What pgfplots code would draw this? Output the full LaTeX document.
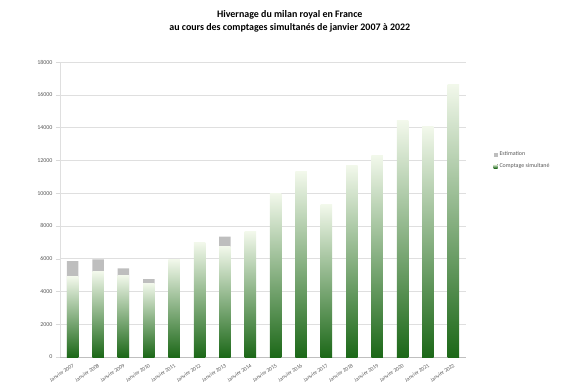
\documentclass[border=0pt]{standalone}
\usepackage{fontspec}
\setmainfont{Carlito}
\usepackage{pgfplots}
\pgfplotsset{compat=1.18}
\definecolor{dgreen}{RGB}{28,104,24}
\definecolor{lgreen}{RGB}{242,248,235}
\definecolor{egrey}{RGB}{190,190,190}
\definecolor{tgrey}{RGB}{90,90,90}
\begin{document}
\begin{tikzpicture}
\useasboundingbox (-60bp,-30bp) rectangle (515bp,357bp);
\begin{axis}[
  at={(0,0)}, anchor=south west,
  width=406bp, height=295bp, scale only axis,
  ybar, bar width=11.5bp, bar shift=0pt,
  ymin=0, ymax=18000, ytick={0,2000,...,18000},
  scaled y ticks=false,
  xmin=-0.5, xmax=15.5, xtick={0,...,15},
  xticklabels={Janvier 2007,Janvier 2008,Janvier 2009,Janvier 2010,Janvier 2011,Janvier 2012,Janvier 2013,Janvier 2014,Janvier 2015,Janvier 2016,Janvier 2017,Janvier 2018,Janvier 2019,Janvier 2020,Janvier 2021,Janvier 2022},
  ymajorgrids, grid style={gray!25},
  axis x line*=bottom, axis y line*=left,
  x axis line style={gray!50, -}, y axis line style={gray!25, -},
  tick align=outside, major tick length=4bp,
  ytick style={gray!30}, xtick style={draw=none},
  /pgf/number format/1000 sep={},
  /pgf/number format/assume math mode=true,
  yticklabel style={font=\fontsize{6}{7}\selectfont, text=tgrey},
  xticklabel style={rotate=34, anchor=north east, inner sep=1.5bp, font=\fontsize{5.5}{6.5}\selectfont, text=tgrey},
  title={Hivernage du milan royal en France\\au cours des comptages simultanés de janvier 2007 à 2022},
  title style={font=\bfseries\fontsize{10}{13}\selectfont, align=center, at={(0.566,1)}, anchor=south, yshift=20bp},
  legend style={at={(1.06,0.71)}, anchor=north west, draw=none, fill=none, font=\fontsize{6}{7}\selectfont, text=tgrey, row sep=2bp},
  legend cell align=left,
  legend image code/.code={\fill[#1] (0bp,-2bp) rectangle (4bp,2bp);},
  gplot/.style={draw=none, bottom color=dgreen, top color=lgreen, forget plot},
]
% totals (comptage + estimation), grey part visible above the count
\addplot[draw=none, fill=egrey] coordinates {
(0,5850) (1,5950) (2,5400) (3,4750) (6,7350)};
\addlegendentry{Estimation}
% comptage simultane, one bar per plot so each bar gets its own gradient
\addplot[draw=none, bottom color=dgreen, top color=lgreen] coordinates {(0,4900)};
\addlegendentry{Comptage simultané}
\addplot[gplot] coordinates {(1,5200)};
\addplot[gplot] coordinates {(2,5000)};
\addplot[gplot] coordinates {(3,4500)};
\addplot[gplot] coordinates {(4,5950)};
\addplot[gplot] coordinates {(5,7000)};
\addplot[gplot] coordinates {(6,6750)};
\addplot[gplot] coordinates {(7,7650)};
\addplot[gplot] coordinates {(8,10000)};
\addplot[gplot] coordinates {(9,11300)};
\addplot[gplot] coordinates {(10,9300)};
\addplot[gplot] coordinates {(11,11700)};
\addplot[gplot] coordinates {(12,12300)};
\addplot[gplot] coordinates {(13,14400)};
\addplot[gplot] coordinates {(14,14050)};
\addplot[gplot] coordinates {(15,16650)};
\end{axis}
\end{tikzpicture}
\end{document}
